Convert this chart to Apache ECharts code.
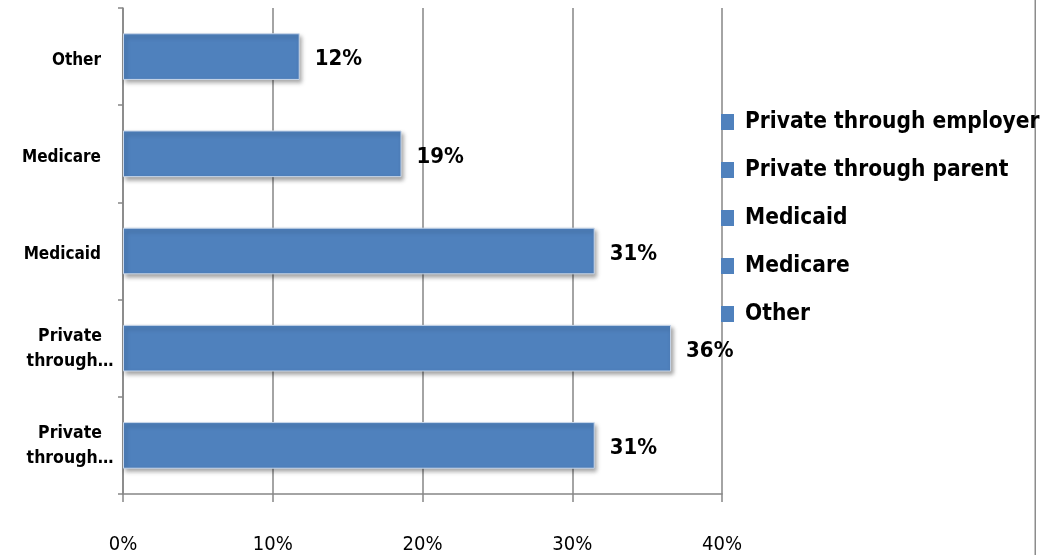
<!DOCTYPE html>
<html>
<head>
<meta charset="utf-8">
<script src="https://cdn.jsdelivr.net/npm/echarts@6/dist/echarts.min.js"></script>
<style>
html,body{margin:0;padding:0;background:#fff;}
#chart{width:1050px;height:555px;}
</style>
</head>
<body>
<div id="chart"></div>
<script>
// Categories, bottom to top as drawn
const categories = ["Private through employer", "Private through parent", "Medicaid", "Medicare", "Other"];
// Bar lengths (percent)
const values = [31.5, 36.6, 31.5, 18.6, 11.8];
// Printed data labels
const labelValues = [31, 36, 31, 19, 12];
const xTicks = [0, 10, 20, 30, 40];

const FONT = '"DejaVu Sans Condensed", "Liberation Sans", sans-serif';
const BLUE = '#4F81BD';
const GRID = '#868686';

const series = categories.map((name, i) => ({
  name: name,
  type: 'bar',
  stack: 'total',
  barWidth: '48%',
  data: categories.map((c, j) => j === i ? values[i] : '-'),
  itemStyle: {
    color: BLUE,
    borderColor: '#c9d7ea',
    borderWidth: 1,
    shadowColor: 'rgba(0,0,0,0.35)',
    shadowBlur: 4,
    shadowOffsetX: 2,
    shadowOffsetY: 3
  },
  label: {
    show: true,
    position: 'right',
    distance: 15,
    offset: [0, 3],
    formatter: () => labelValues[i] + '%',
    fontFamily: FONT,
    fontWeight: 'bold',
    fontSize: 22,
    color: '#000'
  }
}));

const chart = echarts.init(document.getElementById('chart'), null, {renderer: 'canvas'});
chart.setOption({
  animation: false,
  backgroundColor: '#fff',
  grid: {left: 123, right: 328, top: 8, bottom: 60, containLabel: false},
  legend: {
    orient: 'vertical',
    left: 721,
    top: 107,
    padding: 0,
    data: categories.slice(),
    icon: 'rect',
    itemWidth: 13,
    itemHeight: 16,
    itemGap: 18,
    selectedMode: false,
    itemStyle: {borderWidth: 0, shadowBlur: 0, shadowOffsetX: 0, shadowOffsetY: 0},
    textStyle: {
      fontFamily: FONT,
      fontWeight: 'bold',
      fontSize: 22.5,
      lineHeight: 30,
      color: '#000',
      padding: [0, 0, 0, 6]
    }
  },
  xAxis: {
    type: 'value',
    min: xTicks[0],
    max: xTicks[xTicks.length - 1],
    interval: 10,
    axisLine: {show: true, lineStyle: {color: GRID, width: 1.5}},
    axisTick: {show: true, length: 8, lineStyle: {color: GRID, width: 1.5}},
    splitLine: {show: true, lineStyle: {color: GRID, width: 1.5}},
    axisLabel: {
      formatter: '{value}%',
      margin: 41,
      fontFamily: FONT,
      fontSize: 20,
      color: '#000'
    }
  },
  yAxis: {
    type: 'category',
    data: categories,
    axisLine: {show: true, lineStyle: {color: GRID, width: 1.5}},
    axisTick: {show: true, length: 5, lineStyle: {color: GRID, width: 1.5}},
    axisLabel: {
      margin: 9,
      color: '#000',
      fontFamily: FONT,
      fontWeight: 'bold',
      fontSize: 17,
      formatter: (name) => {
        const words = name.split(' ');
        if (words.length > 1) {
          return '{w|' + words[0] + '}\n{w|' + words[1] + '…}';
        }
        return '{s|' + name + '}';
      },
      rich: {
        w: {width: 88, align: 'center', lineHeight: 25, padding: [2, 0, 0, 0], fontFamily: FONT, fontWeight: 'bold', fontSize: 17.5, color: '#000'},
        s: {padding: [7, 13, 0, 0], fontFamily: FONT, fontWeight: 'bold', fontSize: 17, color: '#000'}
      }
    }
  },
  graphic: [{
    type: 'rect',
    right: 14,
    top: 0,
    shape: {width: 1.5, height: 555},
    style: {fill: '#8c8c8c'},
    silent: true
  }],
  series: series
});
</script>
</body>
</html>
